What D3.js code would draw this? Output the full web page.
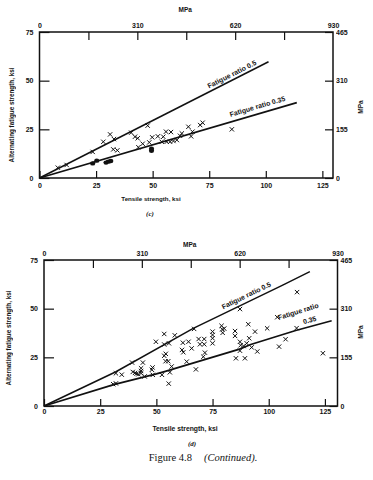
<!DOCTYPE html>
<html>
<head>
<meta charset="utf-8">
<script src="https://cdn.jsdelivr.net/npm/d3@7"></script>
<style>
body { margin: 0; background: #fff; }
svg { display: block; }
text { font-family: "Liberation Sans", Arial, sans-serif; fill: #111; opacity: 0.99; }
</style>
</head>
<body>
<svg id="fig" width="373" height="480"></svg>
<script>
//tick values shared by both panels
let ksiTicks = [0, 25, 50, 75, 100, 125];
let ksiLeftTicks = [0, 25, 50, 75];
let mpaTopLabels = [0, 310, 620, 930];
let mpaTopTicks = [155, 310, 465, 620, 775];
let mpaRightTicks = [0, 155, 310, 465];

//panel (c) - tensile strength vs fatigue strength, ksi
let crossesC = [
    [8.1, 5.3], [12.0, 6.7], [23.5, 13.4], [28.2, 18.6], [31.2, 22.4], [32.9, 20.0],
    [32.6, 14.7], [34.4, 14.2], [40.5, 23.3], [42.2, 21.2], [43.4, 20.4], [47.8, 26.9],
    [43.7, 15.8], [45.6, 17.6], [48.5, 18.3], [49.8, 20.9], [52.3, 21.4], [54.7, 21.2],
    [55.9, 23.8], [58.1, 23.6], [54.0, 18.6], [56.2, 18.6], [57.7, 18.6], [59.2, 19.0],
    [60.7, 19.5], [62.1, 21.7], [62.9, 22.9], [65.8, 26.3], [67.0, 21.4], [67.6, 23.8],
    [71.0, 27.2], [72.1, 28.4], [85.0, 25.0]
];
let dotsC = [
    [23.5, 7.5], [25.3, 8.9], [29.4, 7.9], [30.4, 8.4], [31.5, 8.7], [49.5, 14.0], [49.5, 15.0]
];
let ratio05C = [[0, 0], [101.2, 59.7]];
let ratio035C = [[0, 0], [113.7, 38.7]];

//panel (d)
let crossesD = [
    [30.8, 11.2], [32.0, 11.6], [32.0, 16.8], [34.6, 16.1], [39.2, 22.3], [39.5, 17.5],
    [40.5, 17.0], [41.2, 16.6], [42.0, 16.3], [43.2, 19.4], [43.2, 18.0], [43.2, 16.8],
    [44.0, 22.3], [44.8, 15.2], [48.0, 18.6], [48.3, 19.8], [48.4, 16.0], [49.8, 33.0],
    [52.5, 16.0], [53.5, 37.0], [53.5, 31.6], [53.5, 25.8], [54.2, 26.8], [54.1, 23.0],
    [55.3, 23.0], [55.6, 32.2], [55.5, 11.5], [56.0, 17.3], [56.8, 20.3], [58.2, 36.3],
    [61.8, 32.5], [61.4, 28.8], [62.0, 27.6], [63.5, 22.8], [64.3, 33.0], [65.7, 29.6],
    [66.8, 39.6], [67.6, 18.8], [68.8, 34.4], [69.4, 31.7], [71.3, 34.4], [71.3, 31.7],
    [71.6, 27.4], [70.9, 25.3], [75.0, 38.2], [75.0, 36.5], [75.0, 34.8], [75.0, 32.2],
    [79.0, 41.2], [79.3, 39.4], [79.5, 37.6], [80.2, 39.8], [85.0, 38.5], [85.0, 36.0],
    [85.4, 24.5], [87.2, 49.8], [87.2, 33.0], [87.5, 31.2], [87.2, 28.4], [88.8, 30.8],
    [89.4, 24.5], [90.2, 32.2], [90.9, 42.0], [91.3, 34.8], [92.4, 30.1], [93.9, 38.2],
    [94.9, 28.0], [99.3, 39.9], [103.8, 45.6], [104.6, 30.5], [107.5, 34.3], [112.6, 58.5],
    [112.4, 40.0], [124.1, 27.1]
];
let ratio05D = [[0, 0], [32.0, 17.6], [66.4, 39.9], [106.0, 62.0], [118.3, 69.0]];
let ratio035D = [[0, 0], [31.0, 11.0], [50.0, 16.5], [54.0, 17.8], [87.0, 29.2], [92.0, 31.6], [112.0, 38.8], [128.0, 43.8]];

let svg = d3.select("#fig");

svg.append("rect")
    .attr("width", 373)
    .attr("height", 480)
    .attr("fill", "#fff");

//x marker (fallback if symbolX missing)
let xSymbol = d3.symbolX || {
    draw(ctx, size) {
        let r = Math.sqrt(size) * 0.6;
        ctx.moveTo(-r, -r); ctx.lineTo(r, r);
        ctx.moveTo(-r, r); ctx.lineTo(r, -r);
    }
};

drawPanel({
    left: 39.5, right: 333, top: 32, bottom: 178,
    ksiMax: 129.7, botPad: 4, titleSize: 6.2,
    mpaTitleY: 10, xTitleX: 151, xTitleY: 199, tag: "(c)", tagX: 150, tagY: 214,
    yTitleX: 12, yTitleY: 115, rTitleX: 361, rTitleY: 107,
    crosses: crossesC, dots: dotsC,
    upper: ratio05C, lower: ratio035C,
    upperLabel: { at: 75.5, off: -3, text: "Fatigue ratio 0.5" },
    lowerLabel: [{ at: 85, off: -5, text: "Fatigue ratio 0.35" }]
});

drawPanel({
    left: 44, right: 337.5, top: 260, bottom: 406,
    ksiMax: 130.6, botPad: 2, titleSize: 6.8,
    mpaTitleY: 245, xTitleX: 185, xTitleY: 429, tag: "(d)", tagX: 192, tagY: 444,
    yTitleX: 9, yTitleY: 338, rTitleX: 361, rTitleY: 332,
    crosses: crossesD, dots: [],
    upper: ratio05D, lower: ratio035D,
    upperLabel: { at: 80.5, off: -4, text: "Fatigue ratio 0.5" },
    lowerLabel: [{ at: 106.5, off: -15, text: "Fatigue ratio" }, { at: 116, off: -4, text: "0.35" }]
});

//caption
let cap = svg.append("text")
    .attr("x", 203)
    .attr("y", 461)
    .attr("text-anchor", "middle")
    .style("font-family", "'Liberation Serif', 'Times New Roman', serif")
    .style("font-size", "10.5px");
cap.append("tspan").text("Figure 4.8");
cap.append("tspan").attr("dx", 12).style("font-style", "italic").text("(Continued).");


function drawPanel(p) {
    let g = svg.append("g");

    let x = d3.scaleLinear().domain([0, p.ksiMax]).range([p.left, p.right]);
    let xm = d3.scaleLinear().domain([0, 930]).range([p.left, p.right]);
    let y = d3.scaleLinear().domain([0, 75]).range([p.bottom, p.top]);
    let ym = d3.scaleLinear().domain([0, 465]).range([p.bottom, p.top]);

    //bottom axis, ticks inward
    g.append("g")
        .attr("transform", `translate(0,${p.bottom})`)
        .call(d3.axisBottom(x).tickValues(ksiTicks).tickSize(-7).tickPadding(p.botPad + 1));

    //left axis
    g.append("g")
        .attr("transform", `translate(${p.left},0)`)
        .call(d3.axisLeft(y).tickValues(ksiLeftTicks).tickSize(-10).tickPadding(6));

    //top MPa: ticks and labels are different sets
    g.append("g")
        .attr("transform", `translate(0,${p.top})`)
        .call(d3.axisTop(xm).tickValues(mpaTopTicks).tickSize(-8).tickFormat(""));
    g.append("g")
        .attr("transform", `translate(0,${p.top})`)
        .call(d3.axisTop(xm).tickValues(mpaTopLabels).tickSize(0).tickPadding(4));

    //right MPa
    g.append("g")
        .attr("transform", `translate(${p.right},0)`)
        .call(d3.axisRight(ym).tickValues(mpaRightTicks).tickSize(-8).tickPadding(3));

    g.selectAll(".domain").remove();
    g.selectAll(".tick line").attr("stroke", "#111").attr("stroke-width", 1.2);
    g.selectAll(".tick text")
        .attr("fill", "#111")
        .style("font-family", "'Liberation Sans', Arial, sans-serif")
        .style("font-size", "7px")
        .style("font-weight", "bold");

    //frame
    g.append("rect")
        .attr("x", p.left)
        .attr("y", p.top)
        .attr("width", p.right - p.left)
        .attr("height", p.bottom - p.top)
        .attr("fill", "none")
        .attr("stroke", "#111")
        .attr("stroke-width", 1.5);

    //titles
    g.append("text")
        .attr("x", (p.left + p.right) / 2 - 1)
        .attr("y", p.mpaTitleY + 2)
        .attr("text-anchor", "middle")
        .style("font-size", "6.5px")
        .style("font-weight", "bold")
        .text("MPa");

    g.append("text")
        .attr("x", p.xTitleX)
        .attr("y", p.xTitleY + 2)
        .attr("text-anchor", "middle")
        .style("font-size", `${p.titleSize}px`)
        .style("font-weight", "bold")
        .text("Tensile strength, ksi");

    g.append("text")
        .attr("x", p.tagX)
        .attr("y", p.tagY + 2)
        .attr("text-anchor", "middle")
        .style("font-family", "'Liberation Serif', serif")
        .style("font-size", "7px")
        .style("font-style", "italic")
        .style("font-weight", "bold")
        .text(p.tag);

    g.append("text")
        .attr("transform", `translate(${p.yTitleX + 2},${p.yTitleY}) rotate(-90)`)
        .attr("text-anchor", "middle")
        .style("font-size", "6.3px")
        .style("font-weight", "bold")
        .text("Alternating fatigue strength, ksi");

    g.append("text")
        .attr("transform", `translate(${p.rTitleX + 2},${p.rTitleY}) rotate(-90)`)
        .attr("text-anchor", "middle")
        .style("font-size", "6.5px")
        .style("font-weight", "bold")
        .text("MPa");

    //ratio lines
    let line = d3.line().x(d => x(d[0])).y(d => y(d[1]));

    g.append("path")
        .datum(p.upper)
        .attr("d", line)
        .attr("fill", "none")
        .attr("stroke", "#111")
        .attr("stroke-width", 1.5);

    g.append("path")
        .datum(p.lower)
        .attr("d", line)
        .attr("fill", "none")
        .attr("stroke", "#111")
        .attr("stroke-width", 1.7);

    //labels sit along the line they name
    function lineLabel(pts, lab) {
        let i = d3.bisector(d => d[0]).right(pts, lab.at);
        i = Math.max(1, Math.min(pts.length - 1, i));
        let a = pts[i - 1], b = pts[i];
        let t = (lab.at - a[0]) / (b[0] - a[0]);
        let vy = a[1] + t * (b[1] - a[1]);
        let ang = Math.atan2(y(b[1]) - y(a[1]), x(b[0]) - x(a[0])) * 180 / Math.PI;
        g.append("text")
            .attr("transform", `translate(${x(lab.at)},${y(vy)}) rotate(${ang})`)
            .attr("y", lab.off)
            .style("font-size", "7px")
            .style("font-weight", "bold")
            .text(lab.text);
    }
    lineLabel(p.upper, p.upperLabel);
    p.lowerLabel.forEach(l => lineLabel(p.lower, l));

    //data marks
    g.selectAll("path.cross")
        .data(p.crosses)
        .enter()
        .append("path")
        .attr("class", "cross")
        .attr("transform", d => `translate(${x(d[0])},${y(d[1])})`)
        .attr("d", d3.symbol().type(xSymbol).size(14))
        .attr("fill", "none")
        .attr("stroke", "#111")
        .attr("stroke-width", 1);

    g.selectAll("ellipse.dot")
        .data(p.dots)
        .enter()
        .append("ellipse")
        .attr("class", "dot")
        .attr("cx", d => x(d[0]))
        .attr("cy", d => y(d[1]))
        .attr("rx", 2.6)
        .attr("ry", 2.2)
        .attr("fill", "#111");
}
</script>
</body>
</html>
